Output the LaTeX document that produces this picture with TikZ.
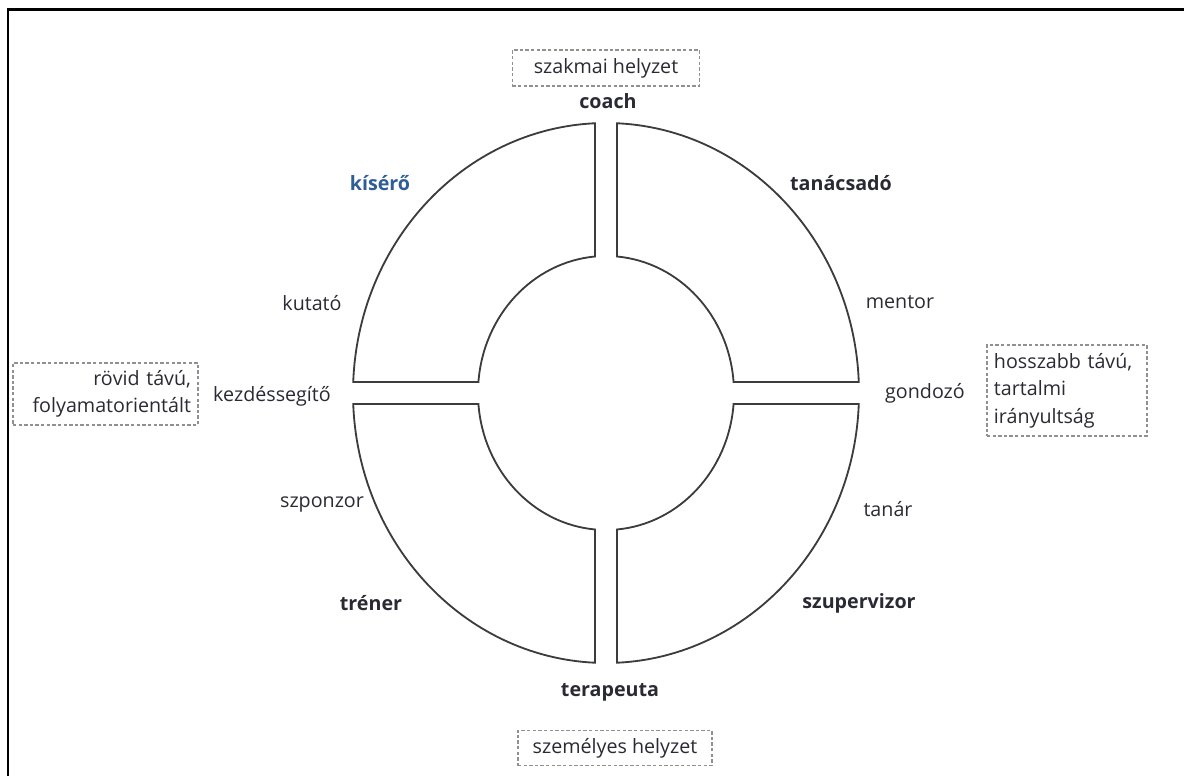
\documentclass[tikz,border=0pt]{standalone}
\usepackage{fontspec}
\setmainfont{Open Sans}
\usetikzlibrary{calc}
\begin{document}
\begin{tikzpicture}[x=0.025cm,y=0.025cm,
  lbl/.style={inner sep=0pt,text=txt,font=\fontsize{14}{19}\selectfont},
  blbl/.style={lbl,font=\fontsize{14}{19}\selectfont\bfseries},
  dbox/.style={draw=boxgray,line width=1pt,dash pattern=on 2.4pt off 1.6pt,text=txt,font=\fontsize{14}{19.5}\selectfont},
  ring/.style={draw=ringgray,line width=1.3pt,line join=miter}]
\definecolor{txt}{HTML}{2A2A34}
\definecolor{blu}{HTML}{2F5E96}
\definecolor{boxgray}{HTML}{909090}
\definecolor{ringgray}{HTML}{3C3C3C}
\useasboundingbox (0,0) rectangle (1184,776);
% frame
\draw[line width=1.9pt] (8,0) -- (8,766.5) -- (1184,766.5);
\coordinate (c) at (606,383);
\def\RX{253}\def\RY{270}\def\rx{128}\def\ry{137}
% quadrants
\foreach \a/\b/\ia/\ib in {2.335/87.51/85.07/4.606, 92.49/177.665/175.394/94.93, 182.335/267.51/265.07/184.606, 272.49/357.665/355.394/274.93}{
  \draw[ring] ($(c)+(\a:\RX*0.025cm and \RY*0.025cm)$) arc[start angle=\a,end angle=\b,x radius=\RX,y radius=\RY]
    -- ($(c)+(\ia:\rx*0.025cm and \ry*0.025cm)$) arc[start angle=\ia,end angle=\ib,x radius=\rx,y radius=\ry] -- cycle;
}
% boxes
\node[dbox,minimum width=4.675cm,minimum height=0.9cm,inner sep=0pt] (top) at (606,708) {szakmai helyzet};
\node[dbox,minimum width=4.85cm,minimum height=0.875cm,inner sep=0pt] (bot) at (615,28) {személyes helyzet};
\node[dbox,minimum width=4.625cm,minimum height=1.55cm,inner xsep=0.175cm,inner ysep=0pt,text width=4.275cm,align=right] (left) at (105.5,382) {rövid távú,\\folyamatorientált};
\node[dbox,minimum width=4cm,minimum height=2.275cm,inner xsep=0.175cm,inner ysep=0pt,text width=3.65cm,align=left] (right) at (1067,385.5) {hosszabb távú,\\tartalmi\\irányultság};
% labels
\node[blbl] (coach) at (608,675) {coach};
\node[blbl,text=blu] (kisero) at (380,593) {kísérő};
\node[blbl] (tanacs) at (841,593) {tanácsadó};
\node[lbl] (kutato) at (312,473) {kutató};
\node[lbl] (mentor) at (900,474) {mentor};
\node[lbl] (kezd) at (272,380) {kezdéssegítő};
\node[lbl] (gond) at (925,383) {gondozó};
\node[lbl] (szponzor) at (322,271) {szponzor};
\node[lbl] (tanar) at (888,267) {tanár};
\node[blbl] (trener) at (371,173) {tréner};
\node[blbl] (szuper) at (859,173) {szupervizor};
\node[blbl] (terap) at (610,84) {terapeuta};
\end{tikzpicture}
\end{document}
